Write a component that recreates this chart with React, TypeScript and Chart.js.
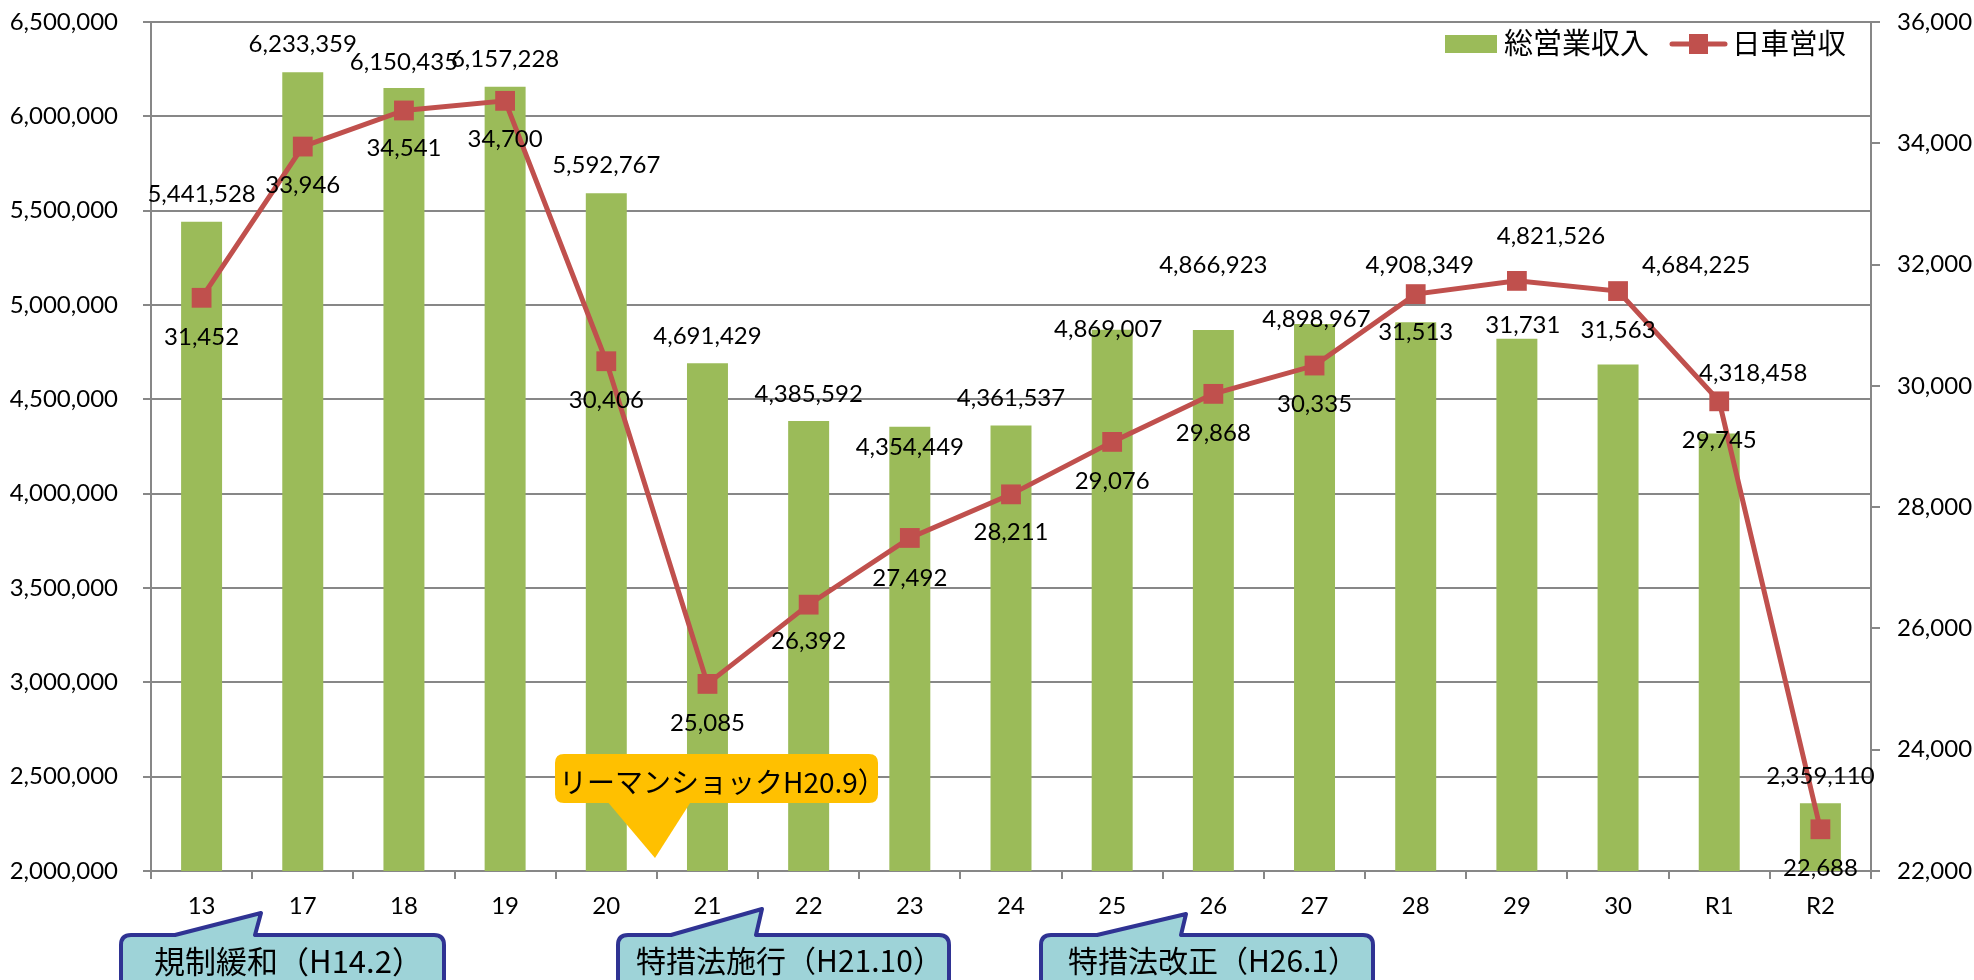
import React, { useEffect, useRef } from 'react';
import { Chart, registerables } from 'chart.js';

Chart.register(...registerables);

// ---- data ----
const categories = ['13', '17', '18', '19', '20', '21', '22', '23', '24', '25', '26', '27', '28', '29', '30', 'R1', 'R2'];
const totalRevenue = [5441528, 6233359, 6150435, 6157228, 5592767, 4691429, 4385592, 4354449, 4361537, 4869007, 4866923, 4898967, 4908349, 4821526, 4684225, 4318458, 2359110];
const dailyRevenue = [31452, 33946, 34541, 34700, 30406, 25085, 26392, 27492, 28211, 29076, 29868, 30335, 31513, 31731, 31563, 29745, 22688];
const seriesNames = ['総営業収入', '日車営収'];
const leftAxisRange = [2000000, 6500000, 500000];
const rightAxisRange = [22000, 36000, 2000];

// ---- label placement (styling, offsets in px from the mark) ----
const barLabelDx = [0, 0, 0, 0, 0, 0, 0, 0, 0, -4, 0, 2, 4, 34, 78, 34, 0];
const barLabelDy = [-27, -28, -26, -27, -28, -27, -27, 20, -27, 0, -65, -5, -57, -102, -99, -60, -27];
const lineLabelDx = [0, 0, 0, 0, 0, 0, 0, 0, 0, 0, 0, 0, 0, 6, 0, 0, 0];
const lineLabelDy = [39, 39, 38, 38, 39, 39, 37, 40, 38, 39, 39, 39, 38, 44, 39, 39, 39];

const GREEN = '#9BBB59';
const RED = '#C0504D';
const GRID = '#878787';
const NUM_FONT = 'Lato, "Noto Sans CJK JP", sans-serif';
const JP_FONT = '"Noto Sans CJK JP", sans-serif';

const fmt = (v: number) => Math.round(v).toLocaleString('en-US');

const valueLabels = {
  id: 'valueLabels',
  afterDatasetsDraw(chart: any) {
    const ctx = chart.ctx;
    ctx.save();
    ctx.font = `24px ${NUM_FONT}`;
    ctx.fillStyle = '#000';
    ctx.textAlign = 'center';
    ctx.textBaseline = 'middle';
    const bars = chart.getDatasetMeta(0).data;
    bars.forEach((el: any, i: number) => {
      ctx.fillText(fmt(totalRevenue[i]), el.x + barLabelDx[i], el.y + barLabelDy[i]);
    });
    const pts = chart.getDatasetMeta(1).data;
    pts.forEach((el: any, i: number) => {
      ctx.fillText(fmt(dailyRevenue[i]), el.x + lineLabelDx[i], el.y + lineLabelDy[i]);
    });
    ctx.restore();
  },
};

function roundRectPath(ctx: CanvasRenderingContext2D, l: number, t: number, r: number, b: number, rad: number) {
  ctx.moveTo(l + rad, t);
  ctx.lineTo(r - rad, t);
  ctx.quadraticCurveTo(r, t, r, t + rad);
  ctx.lineTo(r, b - rad);
  ctx.quadraticCurveTo(r, b, r - rad, b);
  ctx.lineTo(l + rad, b);
  ctx.quadraticCurveTo(l, b, l, b - rad);
  ctx.lineTo(l, t + rad);
  ctx.quadraticCurveTo(l, t, l + rad, t);
}

const callouts = [
  { text: '規制緩和（H14.2）', l: 121, r: 444, t: 935, b1: 175, b2: 255, tx: 261, ty: 913, size: 31 },
  { text: '特措法施行（H21.10）', l: 618, r: 949, t: 935, b1: 671, b2: 756, tx: 762, ty: 909, size: 30 },
  { text: '特措法改正（H26.1）', l: 1041, r: 1373, t: 935, b1: 1097, b2: 1181, tx: 1186, ty: 914, size: 30 },
];

const decorations = {
  id: 'decorations',
  afterDraw(chart: any) {
    const ctx: CanvasRenderingContext2D = chart.ctx;
    ctx.save();

    // legend
    ctx.fillStyle = GREEN;
    ctx.fillRect(1445, 35, 52, 18);
    ctx.fillStyle = '#000';
    ctx.textBaseline = 'middle';
    ctx.textAlign = 'left';
    ctx.font = `29px ${JP_FONT}`;
    ctx.fillText(seriesNames[0], 1504, 43);
    ctx.strokeStyle = RED;
    ctx.lineWidth = 5;
    ctx.lineCap = 'round';
    ctx.beginPath();
    ctx.moveTo(1672, 44);
    ctx.lineTo(1725, 44);
    ctx.stroke();
    ctx.fillStyle = RED;
    ctx.fillRect(1689, 34, 19, 20);
    ctx.fillStyle = '#000';
    ctx.font = `28.5px ${JP_FONT}`;
    ctx.fillText(seriesNames[1], 1732, 43);

    // Lehman shock callout
    ctx.fillStyle = '#FFC000';
    ctx.beginPath();
    roundRectPath(ctx, 555, 754, 878, 803, 9);
    ctx.fill();
    ctx.beginPath();
    ctx.moveTo(606, 800);
    ctx.lineTo(655, 858);
    ctx.lineTo(692, 800);
    ctx.closePath();
    ctx.fill();
    ctx.fillStyle = '#000';
    ctx.font = `28px ${JP_FONT}`;
    ctx.textAlign = 'left';
    ctx.fillText('リーマンショックH20.9）', 559, 782);

    // bottom callouts
    callouts.forEach((c) => {
      const rad = 10;
      const b = 1000;
      ctx.beginPath();
      ctx.moveTo(c.l + rad, c.t);
      ctx.lineTo(c.b1, c.t);
      ctx.lineTo(c.tx, c.ty);
      ctx.lineTo(c.b2, c.t);
      ctx.lineTo(c.r - rad, c.t);
      ctx.quadraticCurveTo(c.r, c.t, c.r, c.t + rad);
      ctx.lineTo(c.r, b);
      ctx.lineTo(c.l, b);
      ctx.lineTo(c.l, c.t + rad);
      ctx.quadraticCurveTo(c.l, c.t, c.l + rad, c.t);
      ctx.closePath();
      ctx.fillStyle = '#9ED3D8';
      ctx.fill();
      ctx.lineWidth = 4;
      ctx.lineJoin = 'round';
      ctx.strokeStyle = '#2F3393';
      ctx.stroke();
      ctx.fillStyle = '#000';
      ctx.font = `${c.size}px ${JP_FONT}`;
      ctx.textAlign = 'center';
      ctx.fillText(c.text, (c.l + c.r) / 2 + 6, 961);
    });
    ctx.restore();
  },
};

const noAutoPad = (s: any) => {
  s.paddingTop = 0;
  s.paddingBottom = 0;
  s.paddingLeft = 0;
  s.paddingRight = 0;
};

export default function App() {
  const ref = useRef<HTMLCanvasElement | null>(null);

  useEffect(() => {
    if (!ref.current) return;
    const tickFont = { family: NUM_FONT, size: 24 };
    const chart = new Chart(ref.current, {
      type: 'bar',
      data: {
        labels: categories,
        datasets: [
          {
            type: 'bar',
            label: seriesNames[0],
            data: totalRevenue,
            backgroundColor: GREEN,
            yAxisID: 'y',
            categoryPercentage: 1,
            barPercentage: 0.405,
            order: 2,
          },
          {
            type: 'line',
            label: seriesNames[1],
            data: dailyRevenue,
            borderColor: RED,
            backgroundColor: RED,
            borderWidth: 5,
            pointStyle: 'rect',
            pointRadius: 14,
            pointBorderWidth: 0,
            pointBackgroundColor: RED,
            tension: 0,
            yAxisID: 'y1',
            order: 1,
          },
        ],
      } as any,
      options: {
        animation: false,
        responsive: true,
        maintainAspectRatio: false,
        layout: { autoPadding: false, padding: { top: 22, left: 0, right: 0, bottom: 0 } },
        plugins: {
          legend: { display: false },
          tooltip: { enabled: false },
        },
        scales: {
          x: {
            grid: { offset: true, drawOnChartArea: false, drawTicks: true, tickLength: 8, color: GRID, lineWidth: 2 },
            border: { display: true, color: GRID, width: 2 },
            ticks: { font: tickFont, color: '#000', padding: 13, maxRotation: 0, autoSkip: false },
            afterFit: (s: any) => { s.height = 109; noAutoPad(s); },
          },
          y: {
            position: 'left',
            min: leftAxisRange[0],
            max: leftAxisRange[1],
            ticks: { stepSize: leftAxisRange[2], callback: (v: any) => fmt(Number(v)), font: tickFont, color: '#000', padding: 25 },
            grid: { color: GRID, lineWidth: 2, tickLength: 8, drawTicks: true },
            border: { display: true, color: GRID, width: 2 },
            afterFit: (s: any) => { s.width = 151; noAutoPad(s); },
          },
          y1: {
            position: 'right',
            min: rightAxisRange[0],
            max: rightAxisRange[1],
            ticks: { stepSize: rightAxisRange[2], callback: (v: any) => fmt(Number(v)), font: tickFont, color: '#000', padding: 17 },
            grid: { drawOnChartArea: false, drawTicks: true, tickLength: 9, color: GRID, lineWidth: 2 },
            border: { display: true, color: GRID, width: 2 },
            afterFit: (s: any) => { s.width = 103; noAutoPad(s); },
          },
        },
      } as any,
      plugins: [valueLabels, decorations],
    });
    return () => chart.destroy();
  }, []);

  return (
    <div style={{ position: 'fixed', left: 0, top: 0, width: 1974, height: 980, background: '#fff' }}>
      <canvas ref={ref} />
    </div>
  );
}
